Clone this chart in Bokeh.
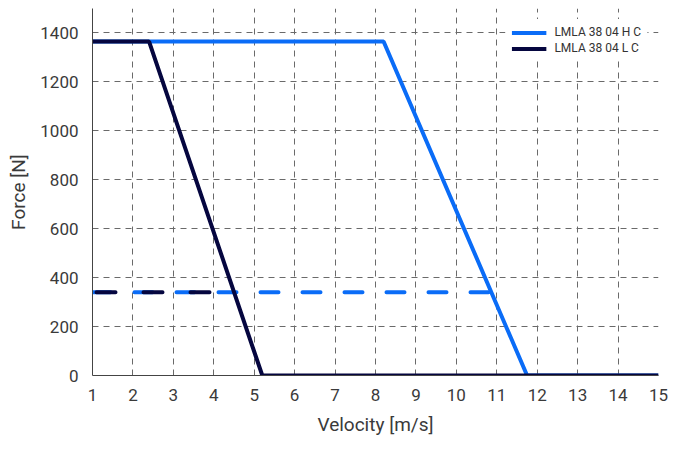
from bokeh.plotting import figure
from bokeh.models import Range1d, Legend, LegendItem, FixedTicker
from bokeh.embed import file_html
from bokeh.resources import INLINE

# Data
h_vel = [1.0, 8.2, 11.75, 15.0]
h_force = [1365, 1365, 0, 0]
l_vel = [1.0, 2.4, 5.2, 15.0]
l_force = [1365, 1365, 0, 0]
h_cont_vel = [1.0, 10.87]
h_cont_force = [340, 340]
l_cont_vel = [1.0, 4.5]
l_cont_force = [340, 340]
x_ticks = list(range(1, 16))
y_ticks = [0, 200, 400, 600, 800, 1000, 1200, 1400]
labels = ["LMLA 38 04 H C", "LMLA 38 04 L C"]

BLUE = "#0a6cf7"
NAVY = "#05063f"
FONT = "Roboto"

p = figure(width=669, height=442, output_backend="svg", toolbar_location=None,
           x_range=Range1d(1, 15), y_range=Range1d(0, 1500),
           min_border_left=92, min_border_right=11, min_border_top=8, min_border_bottom=67)
p.outline_line_color = None
p.background_fill_color = "white"

# grids
for g in (p.xgrid, p.ygrid):
    g.grid_line_color = "#6a6a6a"
    g.grid_line_dash = "6 5"
    g.grid_line_width = 1
p.xaxis.ticker = FixedTicker(ticks=x_ticks)
p.yaxis.ticker = FixedTicker(ticks=y_ticks)

for ax in (p.xaxis[0], p.yaxis[0]):
    ax.major_tick_line_color = None
    ax.minor_tick_line_color = None
    ax.axis_line_color = "#444444"
    ax.axis_line_width = 1
    ax.major_label_text_font = FONT
    ax.major_label_text_font_size = "17px"
    ax.major_label_text_color = "#3a3a3a"
    ax.axis_label_text_font = FONT
    ax.axis_label_text_font_size = "19px"
    ax.axis_label_text_font_style = "normal"
    ax.axis_label_text_color = "#3a3a3a"

p.xaxis.axis_label = "Velocity [m/s]"
p.yaxis.axis_label = "Force [N]"
p.xaxis.major_label_standoff = 7
p.xaxis.axis_label_standoff = 9
p.yaxis.major_label_standoff = 8
p.yaxis.axis_label_standoff = 7

# dashed continuous lines
p.line(h_cont_vel, h_cont_force, line_color=BLUE, line_width=4,
       line_dash="18 24", line_cap="round")
p.line(l_cont_vel, l_cont_force, line_color=NAVY, line_width=4,
       line_dash="19 28", line_cap="round", line_dash_offset=-4)

# solid lines
r_h = p.line(h_vel, h_force, line_color=BLUE, line_width=4)
r_l = p.line(l_vel, l_force, line_color=NAVY, line_width=4)

legend = Legend(items=[LegendItem(label=labels[0], renderers=[r_h]),
                       LegendItem(label=labels[1], renderers=[r_l])],
                location="top_right")
legend.label_text_font = FONT
legend.label_text_font_size = "12px"
legend.label_text_color = "#333333"
legend.glyph_width = 35
legend.glyph_height = 13
legend.label_height = 13
legend.spacing = 2
legend.padding = 6
legend.margin = 11
legend.label_standoff = 8
legend.border_line_alpha = 0
legend.background_fill_alpha = 1
p.add_layout(legend)

open("out.html", "w").write(file_html(p, INLINE))
